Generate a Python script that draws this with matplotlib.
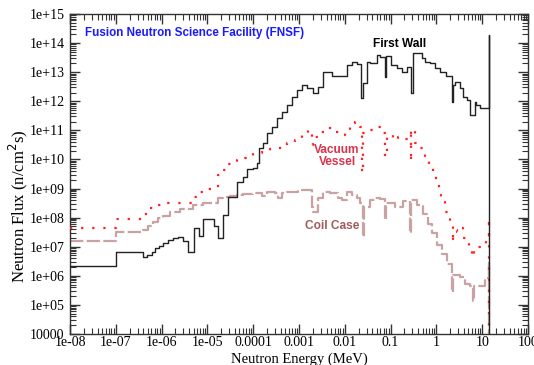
import numpy as np
import matplotlib
matplotlib.use("Agg")
import matplotlib.pyplot as plt
from matplotlib.ticker import LogLocator, FixedLocator, FixedFormatter, NullFormatter

# ---- data (log10 of energy in MeV bin edges, log10 of flux per bin) ----
fw_log_e = [-8.0, -7.0, -6.40, -6.312, -6.216, -6.144, -6.05, -5.963, -5.854, -5.745, -5.635,
            -5.526, -5.417, -5.293, -5.177, -5.103, -4.856, -4.762, -4.653, -4.544, -4.36,
            -4.229, -4.129, -3.998, -3.91, -3.867, -3.779, -3.692, -3.596, -3.487, -3.378,
            -3.269, -3.159, -3.05, -2.941, -2.825, -2.694, -2.585, -2.476, -2.279, -1.952,
            -1.843, -1.734, -1.646, -1.603, -1.515, -1.45, -1.297, -1.231, -1.122, -1.10,
            -0.991, -0.86, -0.751, -0.642, -0.555, -0.511, -0.424, -0.314, -0.249, -0.14,
            -0.031, 0.079, 0.21, 0.341, 0.362, 0.406, 0.515, 0.581, 0.668, 0.734, 0.843,
            0.865, 0.952, 1.061, 1.138, 1.15, 1.16]
fw_log_flux = [6.34, 6.81, 6.63, 6.72, 6.83, 6.95, 7.04, 7.12, 7.23, 7.29, 7.33, 7.18, 6.81,
               7.66, 7.38, 7.97, 7.71, 7.29, 8.08, 8.71, 9.23, 9.41, 9.66, 9.71, 9.88, 10.40,
               10.57, 10.91, 11.12, 11.43, 11.63, 11.87, 12.15, 12.39, 12.56, 12.46, 12.29,
               12.49, 13.01, 12.87, 13.25, 13.35, 13.28, 12.11, 12.63, 13.35, 13.32, 13.59,
               13.52, 12.84, 13.56, 13.25, 13.14, 13.01, 13.18, 12.29, 13.66, 13.66, 13.49,
               13.35, 13.32, 13.14, 13.01, 12.87, 11.98, 12.56, 12.66, 12.46, 12.15, 12.04,
               11.53, 11.98, 11.87, 11.77, 11.77, 14.28, 3.0]

vv_log_e = [-8.0, -7.0, -6.40, -6.29, -6.144, -5.926, -5.343, -5.234, -5.052, -4.762, -4.688,
            -4.544, -4.36, -4.179, -3.998, -3.814, -3.633, -3.452, -3.269, -3.087, -2.941,
            -2.797, -2.723, -2.694, -2.579, -2.432, -2.251, -2.105, -1.996, -1.886, -1.777,
            -1.668, -1.624, -1.592, -1.45, -1.341, -1.194, -1.122, -1.079, -0.948, -0.838,
            -0.729, -0.62, -0.565, -0.544, -0.467, -0.358, -0.249, -0.162, -0.074, -0.009,
            0.057, 0.10, 0.188, 0.297, 0.352, 0.373, 0.45, 0.515, 0.581, 0.646, 0.712,
            0.777, 0.821, 0.952, 1.083, 1.138, 1.15, 1.16]
vv_log_flux = [7.66, 7.97, 8.12, 8.32, 8.44, 8.52, 8.72, 8.89, 8.99, 9.47, 9.64, 9.85, 9.98,
               10.06, 10.21, 10.30, 10.36, 10.38, 10.58, 10.67, 10.90, 11.01, 10.50, 10.77,
               10.95, 11.08, 10.95, 10.84, 11.01, 11.25, 11.29, 11.12, 9.54, 10.91, 11.01,
               11.12, 10.91, 10.09, 10.84, 10.67, 10.77, 10.70, 10.88, 9.91, 11.05, 10.57,
               10.40, 10.12, 9.81, 9.57, 9.23, 8.78, 8.54, 8.20, 7.75, 7.13, 7.58, 7.51,
               7.65, 7.30, 7.13, 6.99, 6.65, 6.99, 7.03, 7.23, 7.99, 3.0]

cc_log_e = [-8.0, -7.0, -6.40, -6.29, -6.181, -6.072, -5.963, -5.817, -5.598, -5.321, -5.09,
            -4.762, -4.653, -4.507, -4.354, -4.223, -4.004, -3.814, -3.705, -3.524, -3.452,
            -3.378, -3.269, -3.015, -2.723, -2.688, -2.579, -2.469, -2.323, -2.142, -2.068,
            -1.959, -1.849, -1.74, -1.668, -1.603, -1.581, -1.45, -1.341, -1.231, -1.122,
            -1.10, -0.904, -0.729, -0.576, -0.555, -0.424, -0.293, -0.183, -0.096, 0.013,
            0.122, 0.231, 0.341, 0.362, 0.515, 0.624, 0.734, 0.799, 0.821, 1.061, 1.138,
            1.15, 1.16]
cc_log_flux = [7.20, 7.50, 7.58, 7.71, 7.86, 7.98, 8.06, 8.21, 8.29, 8.44, 8.49, 8.68, 8.72,
               8.76, 8.78, 8.81, 8.84, 8.76, 8.89, 8.84, 8.67, 8.84, 8.89, 8.95, 8.37, 8.21,
               8.68, 8.89, 8.84, 8.67, 8.61, 8.89, 8.78, 8.67, 8.51, 7.35, 8.38, 8.61, 8.68,
               8.64, 7.92, 8.51, 8.37, 8.57, 7.47, 8.61, 8.44, 8.13, 7.78, 7.47, 7.06, 6.75,
               6.41, 5.45, 6.03, 5.96, 5.72, 5.65, 5.14, 5.65, 5.93, 6.44, 3.0]

x_ticks = [1e-8, 1e-7, 1e-6, 1e-5, 1e-4, 1e-3, 1e-2, 1e-1, 1, 10, 100]
x_tick_labels = ["1e-08", "1e-07", "1e-06", "1e-05", "0.0001", "0.001", "0.01", "0.1", "1", "10", "100"]
y_ticks = [1e4, 1e5, 1e6, 1e7, 1e8, 1e9, 1e10, 1e11, 1e12, 1e13, 1e14, 1e15]
y_tick_labels = ["10000", "1e+05", "1e+06", "1e+07", "1e+08", "1e+09", "1e+10", "1e+11",
                 "1e+12", "1e+13", "1e+14", "1e+15"]


def step_xy(log_e, log_f):
    e = 10.0 ** np.asarray(log_e)
    f = 10.0 ** np.asarray(log_f)
    return e, np.append(f, f[-1])


fig = plt.figure(figsize=(5.34, 3.65), dpi=100)
ax = fig.add_axes([70 / 534, 1 - 334 / 365, 458 / 534, 320 / 365])

serif = "Liberation Serif"
sans = "Liberation Sans"

e, f = step_xy(cc_log_e, cc_log_flux)
ax.step(e, f, where="post", color="#c9a3a3", lw=1.6, linestyle=(0, (6, 1.5)), zorder=2)
e, f = step_xy(vv_log_e, vv_log_flux)
ax.step(e, f, where="post", color="#ff2020", lw=1.6, linestyle=(0, (1, 4)), zorder=3)
e, f = step_xy(fw_log_e, fw_log_flux)
ax.step(e, f, where="post", color="#222222", lw=1.0, zorder=4)

ax.set_xscale("log")
ax.set_yscale("log")
ax.set_xlim(1e-8, 100)
ax.set_ylim(1e4, 1e15)

ax.xaxis.set_major_locator(FixedLocator(x_ticks))
ax.xaxis.set_major_formatter(FixedFormatter(x_tick_labels))
ax.yaxis.set_major_locator(FixedLocator(y_ticks))
ax.yaxis.set_major_formatter(FixedFormatter(y_tick_labels))
ax.xaxis.set_minor_locator(LogLocator(base=10, subs=np.arange(2, 10), numticks=100))
ax.yaxis.set_minor_locator(LogLocator(base=10, subs=np.arange(2, 10), numticks=100))
ax.xaxis.set_minor_formatter(NullFormatter())
ax.yaxis.set_minor_formatter(NullFormatter())

ax.tick_params(which="both", direction="in", top=True, right=True, color="#333333")
ax.tick_params(which="major", length=7, width=1.0, labelsize=10)
ax.tick_params(axis="x", which="major", pad=1.5)
ax.tick_params(axis="y", which="major", pad=4)
ax.tick_params(which="minor", length=4, width=0.8)
for lab in ax.get_xticklabels() + ax.get_yticklabels():
    lab.set_fontfamily(serif)
for sp in ax.spines.values():
    sp.set_linewidth(1.0)
    sp.set_color("#333333")

ax.set_xlabel("Neutron Energy (MeV)", fontfamily=serif, fontsize=10.5)
ax.xaxis.set_label_coords(0.5, -0.0575)
ax.set_ylabel("Neutron Flux (n/cm$^2$s)", fontfamily=serif, fontsize=12)
ax.yaxis.set_label_coords(-0.112, 0.40)
ax.yaxis.label.set_va("center")

ax.text(0.032, 0.94, "Fusion Neutron Science Facility (FNSF)", transform=ax.transAxes,
        color="#1a1aff", fontfamily=sans, fontweight="bold", fontsize=8.4, va="center", ha="left")
ax.text(0.16, 9.5e13, "First Wall", color="black", fontfamily=sans, fontweight="bold",
        fontsize=8.6, ha="center", va="center")
ax.text(0.0068, 1.3e10, "Vacuum\nVessel", color="#d9334d", fontfamily=sans, fontweight="bold",
        fontsize=8.6, ha="center", va="center", linespacing=1.0)
ax.text(0.0053, 5.1e7, "Coil Case", color="#a35a5a", fontfamily=sans, fontweight="bold",
        fontsize=8.6, ha="center", va="center")

fig.savefig("out.png", dpi=100)
